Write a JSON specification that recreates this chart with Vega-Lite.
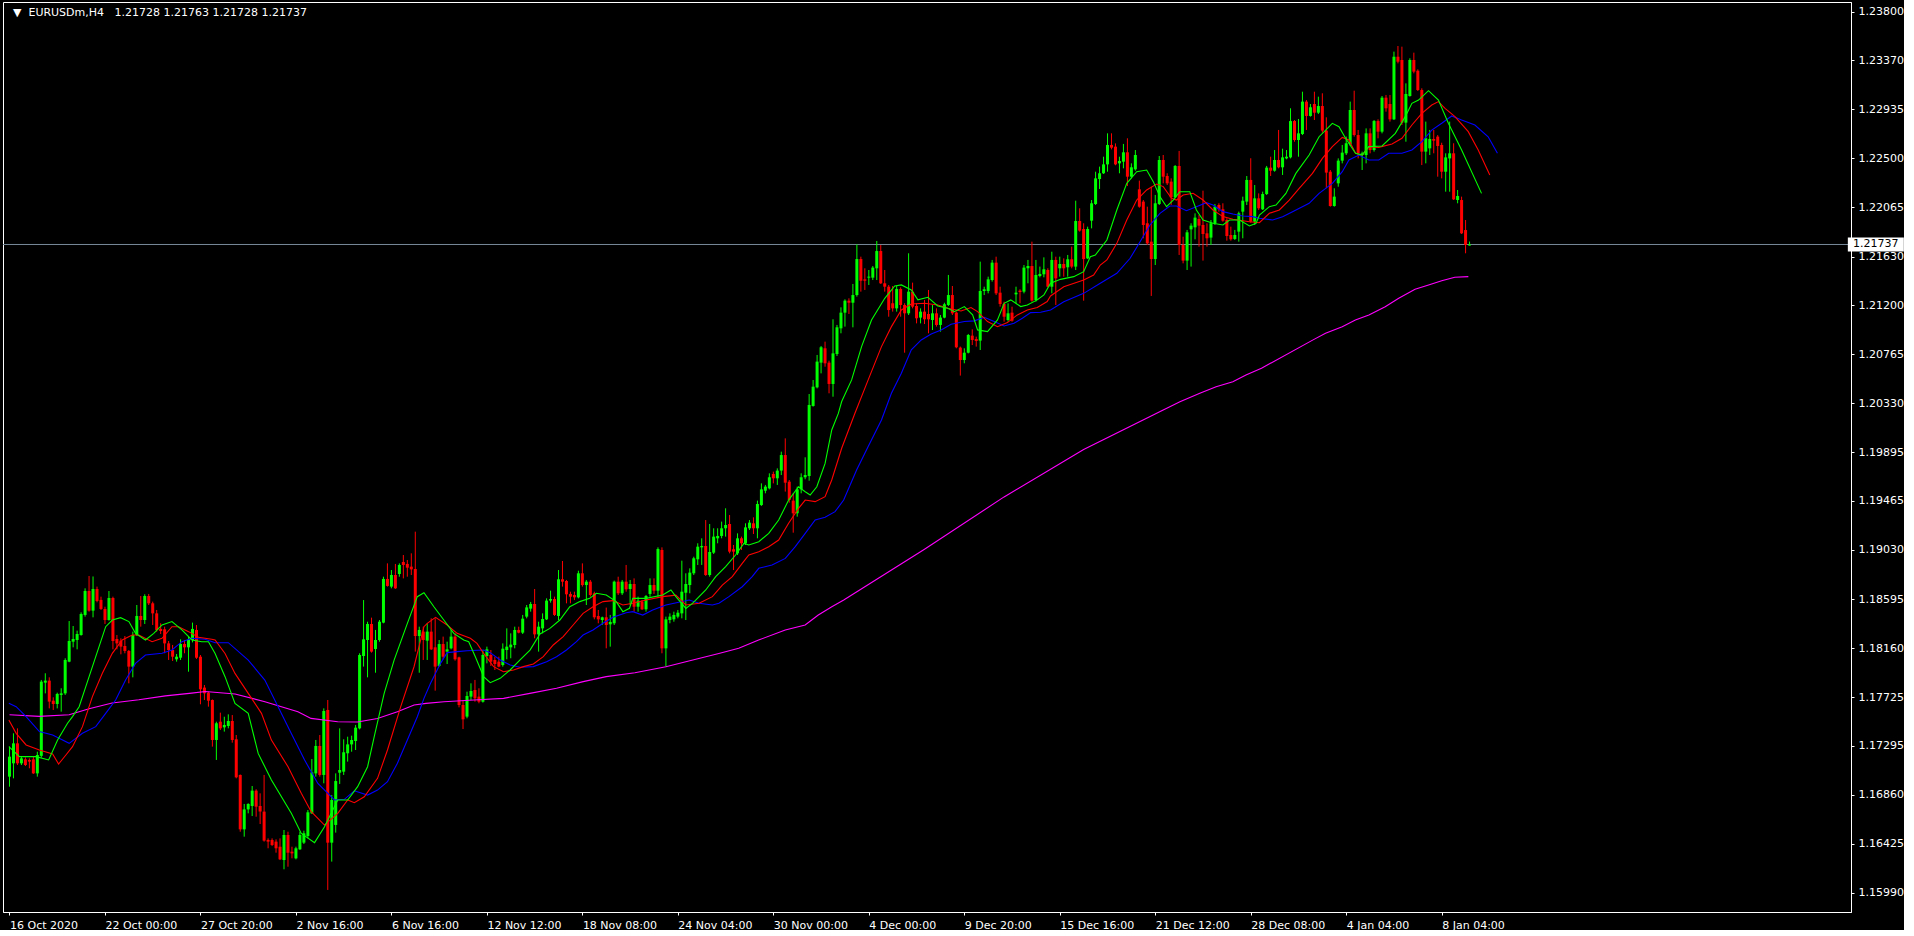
{
"$schema":"https://vega.github.io/schema/vega-lite/v6.json",
"width":1848,"height":910,
"padding":{"left":2,"top":2,"right":0,"bottom":0},
"autosize":{"type":"pad"},
"background":"#000000",
"config":{"view":{"stroke":"#ffffff","strokeWidth":1},"axis":{"domainColor":"#ffffff","tickColor":"#ffffff","labelColor":"#ffffff","labelFont":"DejaVu Sans","labelFontSize":11,"grid":false}},
"datasets":{
"last":[{"p":1.21737}],
"header":[{"t":"▼\u00a0\u00a0EURUSDm,H4\u00a0\u00a0\u00a01.21728 1.21763 1.21728 1.21737"}],
"candles":[
{"i":0,"o":1.17021,"h":1.17287,"l":1.16932,"c":1.17198},
{"i":1,"o":1.17139,"h":1.17405,"l":1.17006,"c":1.17316},
{"i":2,"o":1.17316,"h":1.17449,"l":1.17124,"c":1.17139},
{"i":3,"o":1.17139,"h":1.17198,"l":1.17124,"c":1.17183},
{"i":4,"o":1.17174,"h":1.17192,"l":1.17115,"c":1.17124},
{"i":5,"o":1.17169,"h":1.17183,"l":1.17095,"c":1.17154},
{"i":6,"o":1.17174,"h":1.17198,"l":1.17045,"c":1.17050},
{"i":7,"o":1.17050,"h":1.17242,"l":1.17021,"c":1.17213},
{"i":8,"o":1.17205,"h":1.17878,"l":1.17190,"c":1.17863},
{"i":9,"o":1.17854,"h":1.17937,"l":1.17759,"c":1.17872},
{"i":10,"o":1.17872,"h":1.17901,"l":1.17626,"c":1.17686},
{"i":11,"o":1.17694,"h":1.17724,"l":1.17612,"c":1.17665},
{"i":12,"o":1.17665,"h":1.17765,"l":1.17626,"c":1.17754},
{"i":13,"o":1.17745,"h":1.17804,"l":1.17597,"c":1.17759},
{"i":14,"o":1.17759,"h":1.18070,"l":1.17745,"c":1.18055},
{"i":15,"o":1.18040,"h":1.18400,"l":1.18035,"c":1.18223},
{"i":16,"o":1.18217,"h":1.18356,"l":1.18167,"c":1.18241},
{"i":17,"o":1.18232,"h":1.18315,"l":1.18149,"c":1.18285},
{"i":18,"o":1.18276,"h":1.18477,"l":1.18270,"c":1.18462},
{"i":19,"o":1.18454,"h":1.18690,"l":1.18439,"c":1.18666},
{"i":20,"o":1.18666,"h":1.18799,"l":1.18483,"c":1.18492},
{"i":21,"o":1.18492,"h":1.18795,"l":1.18433,"c":1.18684},
{"i":22,"o":1.18684,"h":1.18705,"l":1.18566,"c":1.18578},
{"i":23,"o":1.18587,"h":1.18616,"l":1.18498,"c":1.18507},
{"i":24,"o":1.18507,"h":1.18527,"l":1.18374,"c":1.18409},
{"i":25,"o":1.18409,"h":1.18666,"l":1.18403,"c":1.18604},
{"i":26,"o":1.18604,"h":1.18616,"l":1.18149,"c":1.18223},
{"i":27,"o":1.18241,"h":1.18276,"l":1.18149,"c":1.18202},
{"i":28,"o":1.18226,"h":1.18247,"l":1.18105,"c":1.18173},
{"i":29,"o":1.18179,"h":1.18267,"l":1.18114,"c":1.18135},
{"i":30,"o":1.18135,"h":1.18143,"l":1.17848,"c":1.17996},
{"i":31,"o":1.17996,"h":1.18306,"l":1.17901,"c":1.18276},
{"i":32,"o":1.18276,"h":1.18542,"l":1.18267,"c":1.18445},
{"i":33,"o":1.18445,"h":1.18622,"l":1.18350,"c":1.18409},
{"i":34,"o":1.18409,"h":1.18637,"l":1.18374,"c":1.18622},
{"i":35,"o":1.18622,"h":1.18640,"l":1.18542,"c":1.18557},
{"i":36,"o":1.18557,"h":1.18572,"l":1.18365,"c":1.18468},
{"i":37,"o":1.18468,"h":1.18498,"l":1.18306,"c":1.18321},
{"i":38,"o":1.18330,"h":1.18380,"l":1.18285,"c":1.18312},
{"i":39,"o":1.18327,"h":1.18350,"l":1.18114,"c":1.18202},
{"i":40,"o":1.18202,"h":1.18223,"l":1.18055,"c":1.18143},
{"i":41,"o":1.18143,"h":1.18188,"l":1.18046,"c":1.18084},
{"i":42,"o":1.18061,"h":1.18108,"l":1.18040,"c":1.18084},
{"i":43,"o":1.18075,"h":1.18238,"l":1.18055,"c":1.18197},
{"i":44,"o":1.18197,"h":1.18232,"l":1.18114,"c":1.18167},
{"i":45,"o":1.18167,"h":1.18262,"l":1.17951,"c":1.18238},
{"i":46,"o":1.18232,"h":1.18386,"l":1.18211,"c":1.18330},
{"i":47,"o":1.18321,"h":1.18365,"l":1.18064,"c":1.18075},
{"i":48,"o":1.18084,"h":1.18099,"l":1.17662,"c":1.17795},
{"i":49,"o":1.17810,"h":1.17833,"l":1.17700,"c":1.17759},
{"i":50,"o":1.17765,"h":1.17774,"l":1.17641,"c":1.17694},
{"i":51,"o":1.17700,"h":1.17705,"l":1.17287,"c":1.17346},
{"i":52,"o":1.17346,"h":1.17508,"l":1.17169,"c":1.17494},
{"i":53,"o":1.17508,"h":1.17588,"l":1.17434,"c":1.17449},
{"i":54,"o":1.17458,"h":1.17552,"l":1.17420,"c":1.17479},
{"i":55,"o":1.17470,"h":1.17573,"l":1.17449,"c":1.17514},
{"i":56,"o":1.17514,"h":1.17567,"l":1.17322,"c":1.17346},
{"i":57,"o":1.17352,"h":1.17390,"l":1.17006,"c":1.17015},
{"i":58,"o":1.17036,"h":1.17040,"l":1.16533,"c":1.16554},
{"i":59,"o":1.16554,"h":1.16779,"l":1.16489,"c":1.16731},
{"i":60,"o":1.16731,"h":1.16785,"l":1.16696,"c":1.16779},
{"i":61,"o":1.16761,"h":1.16938,"l":1.16672,"c":1.16897},
{"i":62,"o":1.16897,"h":1.16909,"l":1.16666,"c":1.16755},
{"i":63,"o":1.16761,"h":1.16873,"l":1.16601,"c":1.16711},
{"i":64,"o":1.16711,"h":1.17036,"l":1.16445,"c":1.16454},
{"i":65,"o":1.16460,"h":1.16474,"l":1.16386,"c":1.16445},
{"i":66,"o":1.16460,"h":1.16474,"l":1.16406,"c":1.16415},
{"i":67,"o":1.16445,"h":1.16465,"l":1.16347,"c":1.16386},
{"i":68,"o":1.16400,"h":1.16474,"l":1.16282,"c":1.16288},
{"i":69,"o":1.16282,"h":1.16548,"l":1.16200,"c":1.16504},
{"i":70,"o":1.16504,"h":1.16533,"l":1.16223,"c":1.16347},
{"i":71,"o":1.16356,"h":1.16400,"l":1.16297,"c":1.16341},
{"i":72,"o":1.16297,"h":1.16400,"l":1.16288,"c":1.16386},
{"i":73,"o":1.16377,"h":1.16533,"l":1.16371,"c":1.16504},
{"i":74,"o":1.16436,"h":1.16542,"l":1.16424,"c":1.16519},
{"i":75,"o":1.16495,"h":1.16725,"l":1.16474,"c":1.16705},
{"i":76,"o":1.16696,"h":1.17177,"l":1.16690,"c":1.17059},
{"i":77,"o":1.17050,"h":1.17346,"l":1.17021,"c":1.17293},
{"i":78,"o":1.17293,"h":1.17390,"l":1.17021,"c":1.17036},
{"i":79,"o":1.17036,"h":1.17626,"l":1.16962,"c":1.17603},
{"i":80,"o":1.17612,"h":1.17700,"l":1.16017,"c":1.16436},
{"i":81,"o":1.16436,"h":1.16858,"l":1.16268,"c":1.16814},
{"i":82,"o":1.16593,"h":1.17050,"l":1.16525,"c":1.16982},
{"i":83,"o":1.17056,"h":1.17449,"l":1.16956,"c":1.17080},
{"i":84,"o":1.17065,"h":1.17352,"l":1.17036,"c":1.17237},
{"i":85,"o":1.17228,"h":1.17375,"l":1.17154,"c":1.17307},
{"i":86,"o":1.17307,"h":1.17384,"l":1.17242,"c":1.17346},
{"i":87,"o":1.17337,"h":1.17479,"l":1.17257,"c":1.17455},
{"i":88,"o":1.17449,"h":1.18114,"l":1.17440,"c":1.18099},
{"i":89,"o":1.18090,"h":1.18586,"l":1.17996,"c":1.18238},
{"i":90,"o":1.18232,"h":1.18394,"l":1.17901,"c":1.18374},
{"i":91,"o":1.18374,"h":1.18430,"l":1.18120,"c":1.18129},
{"i":92,"o":1.18152,"h":1.18321,"l":1.17942,"c":1.18232},
{"i":93,"o":1.18232,"h":1.18409,"l":1.18217,"c":1.18394},
{"i":94,"o":1.18386,"h":1.18793,"l":1.18380,"c":1.18773},
{"i":95,"o":1.18773,"h":1.18911,"l":1.18705,"c":1.18711},
{"i":96,"o":1.18705,"h":1.18852,"l":1.18690,"c":1.18808},
{"i":97,"o":1.18808,"h":1.18906,"l":1.18685,"c":1.18690},
{"i":98,"o":1.18817,"h":1.18911,"l":1.18793,"c":1.18897},
{"i":99,"o":1.18923,"h":1.18985,"l":1.18778,"c":1.18897},
{"i":100,"o":1.18906,"h":1.18941,"l":1.18793,"c":1.18873},
{"i":101,"o":1.18882,"h":1.19000,"l":1.18808,"c":1.18858},
{"i":102,"o":1.18861,"h":1.19192,"l":1.18129,"c":1.18267},
{"i":103,"o":1.18267,"h":1.18350,"l":1.17942,"c":1.18321},
{"i":104,"o":1.18306,"h":1.18350,"l":1.18055,"c":1.18232},
{"i":105,"o":1.18226,"h":1.18380,"l":1.18055,"c":1.18306},
{"i":106,"o":1.18306,"h":1.18424,"l":1.18143,"c":1.18149},
{"i":107,"o":1.18167,"h":1.18424,"l":1.17783,"c":1.17996},
{"i":108,"o":1.18002,"h":1.18232,"l":1.17996,"c":1.18196},
{"i":109,"o":1.18196,"h":1.18262,"l":1.18061,"c":1.18084},
{"i":110,"o":1.18129,"h":1.18217,"l":1.18019,"c":1.18149},
{"i":111,"o":1.18158,"h":1.18321,"l":1.18149,"c":1.18262},
{"i":112,"o":1.18262,"h":1.18291,"l":1.18049,"c":1.18061},
{"i":113,"o":1.18078,"h":1.18084,"l":1.17635,"c":1.17656},
{"i":114,"o":1.17656,"h":1.17700,"l":1.17443,"c":1.17529},
{"i":115,"o":1.17553,"h":1.17774,"l":1.17538,"c":1.17736},
{"i":116,"o":1.17730,"h":1.17848,"l":1.17700,"c":1.17780},
{"i":117,"o":1.17789,"h":1.17878,"l":1.17685,"c":1.17715},
{"i":118,"o":1.17730,"h":1.17804,"l":1.17671,"c":1.17685},
{"i":119,"o":1.17685,"h":1.18143,"l":1.17677,"c":1.18099},
{"i":120,"o":1.18090,"h":1.18173,"l":1.18025,"c":1.18149},
{"i":121,"o":1.18099,"h":1.18143,"l":1.18002,"c":1.18040},
{"i":122,"o":1.18055,"h":1.18084,"l":1.17966,"c":1.18019},
{"i":123,"o":1.18040,"h":1.18084,"l":1.17990,"c":1.17996},
{"i":124,"o":1.18010,"h":1.18202,"l":1.17996,"c":1.18155},
{"i":125,"o":1.18143,"h":1.18335,"l":1.18061,"c":1.18173},
{"i":126,"o":1.18167,"h":1.18291,"l":1.18070,"c":1.18191},
{"i":127,"o":1.18188,"h":1.18350,"l":1.18158,"c":1.18321},
{"i":128,"o":1.18321,"h":1.18350,"l":1.18291,"c":1.18297},
{"i":129,"o":1.18297,"h":1.18454,"l":1.18285,"c":1.18421},
{"i":130,"o":1.18439,"h":1.18542,"l":1.18424,"c":1.18521},
{"i":131,"o":1.18510,"h":1.18569,"l":1.18483,"c":1.18551},
{"i":132,"o":1.18551,"h":1.18684,"l":1.18247,"c":1.18282},
{"i":133,"o":1.18282,"h":1.18394,"l":1.18129,"c":1.18350},
{"i":134,"o":1.18335,"h":1.18468,"l":1.18291,"c":1.18418},
{"i":135,"o":1.18415,"h":1.18601,"l":1.18409,"c":1.18581},
{"i":136,"o":1.18581,"h":1.18669,"l":1.18563,"c":1.18595},
{"i":137,"o":1.18595,"h":1.18616,"l":1.18445,"c":1.18454},
{"i":138,"o":1.18445,"h":1.18852,"l":1.18409,"c":1.18770},
{"i":139,"o":1.18770,"h":1.18932,"l":1.18705,"c":1.18749},
{"i":140,"o":1.18755,"h":1.18764,"l":1.18557,"c":1.18637},
{"i":141,"o":1.18640,"h":1.18660,"l":1.18557,"c":1.18616},
{"i":142,"o":1.18631,"h":1.18660,"l":1.18586,"c":1.18610},
{"i":143,"o":1.18610,"h":1.18846,"l":1.18601,"c":1.18823},
{"i":144,"o":1.18823,"h":1.18911,"l":1.18705,"c":1.18719},
{"i":145,"o":1.18719,"h":1.18764,"l":1.18542,"c":1.18749},
{"i":146,"o":1.18749,"h":1.18764,"l":1.18616,"c":1.18631},
{"i":147,"o":1.18646,"h":1.18660,"l":1.18415,"c":1.18433},
{"i":148,"o":1.18445,"h":1.18498,"l":1.18380,"c":1.18415},
{"i":149,"o":1.18409,"h":1.18439,"l":1.18365,"c":1.18433},
{"i":150,"o":1.18433,"h":1.18519,"l":1.18158,"c":1.18365},
{"i":151,"o":1.18371,"h":1.18454,"l":1.18173,"c":1.18392},
{"i":152,"o":1.18380,"h":1.18758,"l":1.18365,"c":1.18749},
{"i":153,"o":1.18749,"h":1.18793,"l":1.18631,"c":1.18646},
{"i":154,"o":1.18646,"h":1.18764,"l":1.18631,"c":1.18749},
{"i":155,"o":1.18749,"h":1.18897,"l":1.18660,"c":1.18681},
{"i":156,"o":1.18684,"h":1.18764,"l":1.18542,"c":1.18728},
{"i":157,"o":1.18728,"h":1.18778,"l":1.18483,"c":1.18527},
{"i":158,"o":1.18527,"h":1.18616,"l":1.18483,"c":1.18581},
{"i":159,"o":1.18572,"h":1.18587,"l":1.18498,"c":1.18504},
{"i":160,"o":1.18504,"h":1.18631,"l":1.18483,"c":1.18622},
{"i":161,"o":1.18640,"h":1.18778,"l":1.18616,"c":1.18719},
{"i":162,"o":1.18719,"h":1.18778,"l":1.18640,"c":1.18669},
{"i":163,"o":1.18669,"h":1.19053,"l":1.18616,"c":1.19038},
{"i":164,"o":1.19030,"h":1.19053,"l":1.18114,"c":1.18158},
{"i":165,"o":1.18158,"h":1.18439,"l":1.17996,"c":1.18415},
{"i":166,"o":1.18409,"h":1.18468,"l":1.18380,"c":1.18439},
{"i":167,"o":1.18415,"h":1.18483,"l":1.18394,"c":1.18454},
{"i":168,"o":1.18439,"h":1.18498,"l":1.18424,"c":1.18474},
{"i":169,"o":1.18468,"h":1.18935,"l":1.18424,"c":1.18660},
{"i":170,"o":1.18651,"h":1.18823,"l":1.18409,"c":1.18728},
{"i":171,"o":1.18719,"h":1.18867,"l":1.18646,"c":1.18829},
{"i":172,"o":1.18823,"h":1.18970,"l":1.18808,"c":1.18956},
{"i":173,"o":1.18947,"h":1.19089,"l":1.18897,"c":1.19059},
{"i":174,"o":1.19053,"h":1.19133,"l":1.18897,"c":1.19065},
{"i":175,"o":1.19065,"h":1.19295,"l":1.18800,"c":1.18808},
{"i":176,"o":1.18808,"h":1.19260,"l":1.18793,"c":1.19012},
{"i":177,"o":1.19006,"h":1.19222,"l":1.18994,"c":1.19148},
{"i":178,"o":1.19133,"h":1.19222,"l":1.19089,"c":1.19154},
{"i":179,"o":1.19154,"h":1.19281,"l":1.19133,"c":1.19222},
{"i":180,"o":1.19222,"h":1.19399,"l":1.19148,"c":1.19251},
{"i":181,"o":1.19260,"h":1.19340,"l":1.19000,"c":1.19015},
{"i":182,"o":1.19036,"h":1.19074,"l":1.18852,"c":1.19015},
{"i":183,"o":1.19000,"h":1.19177,"l":1.18985,"c":1.19133},
{"i":184,"o":1.19133,"h":1.19148,"l":1.19030,"c":1.19089},
{"i":185,"o":1.19089,"h":1.19266,"l":1.19074,"c":1.19230},
{"i":186,"o":1.19222,"h":1.19295,"l":1.19207,"c":1.19272},
{"i":187,"o":1.19266,"h":1.19319,"l":1.19171,"c":1.19222},
{"i":188,"o":1.19222,"h":1.19467,"l":1.19133,"c":1.19437},
{"i":189,"o":1.19428,"h":1.19620,"l":1.19420,"c":1.19567},
{"i":190,"o":1.19555,"h":1.19606,"l":1.19532,"c":1.19591},
{"i":191,"o":1.19576,"h":1.19709,"l":1.19567,"c":1.19674},
{"i":192,"o":1.19703,"h":1.19724,"l":1.19620,"c":1.19665},
{"i":193,"o":1.19665,"h":1.19753,"l":1.19606,"c":1.19733},
{"i":194,"o":1.19733,"h":1.19901,"l":1.19694,"c":1.19871},
{"i":195,"o":1.19871,"h":1.20019,"l":1.19547,"c":1.19626},
{"i":196,"o":1.19635,"h":1.19650,"l":1.19449,"c":1.19473},
{"i":197,"o":1.19467,"h":1.19532,"l":1.19183,"c":1.19355},
{"i":198,"o":1.19355,"h":1.19591,"l":1.19325,"c":1.19567},
{"i":199,"o":1.19567,"h":1.19709,"l":1.19532,"c":1.19674},
{"i":200,"o":1.19674,"h":1.19851,"l":1.19656,"c":1.19694},
{"i":201,"o":1.19685,"h":1.20412,"l":1.19644,"c":1.20315},
{"i":202,"o":1.20306,"h":1.20536,"l":1.20300,"c":1.20477},
{"i":203,"o":1.20471,"h":1.20758,"l":1.20462,"c":1.20699},
{"i":204,"o":1.20690,"h":1.20837,"l":1.20595,"c":1.20826},
{"i":205,"o":1.20817,"h":1.20876,"l":1.20654,"c":1.20684},
{"i":206,"o":1.20690,"h":1.20707,"l":1.20418,"c":1.20501},
{"i":207,"o":1.20501,"h":1.21074,"l":1.20388,"c":1.20772},
{"i":208,"o":1.20766,"h":1.21024,"l":1.20749,"c":1.21003},
{"i":209,"o":1.20994,"h":1.21180,"l":1.20950,"c":1.21133},
{"i":210,"o":1.21133,"h":1.21251,"l":1.21009,"c":1.21239},
{"i":211,"o":1.21239,"h":1.21260,"l":1.21121,"c":1.21221},
{"i":212,"o":1.21221,"h":1.21387,"l":1.21003,"c":1.21289},
{"i":213,"o":1.21289,"h":1.21738,"l":1.21275,"c":1.21608},
{"i":214,"o":1.21608,"h":1.21629,"l":1.21319,"c":1.21416},
{"i":215,"o":1.21428,"h":1.21526,"l":1.21334,"c":1.21416},
{"i":216,"o":1.21443,"h":1.21511,"l":1.21378,"c":1.21452},
{"i":217,"o":1.21443,"h":1.21546,"l":1.21422,"c":1.21532},
{"i":218,"o":1.21526,"h":1.21768,"l":1.21422,"c":1.21679},
{"i":219,"o":1.21679,"h":1.21732,"l":1.21387,"c":1.21393},
{"i":220,"o":1.21393,"h":1.21511,"l":1.21319,"c":1.21363},
{"i":221,"o":1.21363,"h":1.21378,"l":1.21097,"c":1.21156},
{"i":222,"o":1.21216,"h":1.21369,"l":1.21142,"c":1.21171},
{"i":223,"o":1.21171,"h":1.21369,"l":1.21142,"c":1.21343},
{"i":224,"o":1.21343,"h":1.21357,"l":1.21097,"c":1.21201},
{"i":225,"o":1.21201,"h":1.21216,"l":1.20778,"c":1.21127},
{"i":226,"o":1.21127,"h":1.21659,"l":1.21112,"c":1.21319},
{"i":227,"o":1.21319,"h":1.21399,"l":1.21171,"c":1.21186},
{"i":228,"o":1.21192,"h":1.21216,"l":1.21038,"c":1.21083},
{"i":229,"o":1.21089,"h":1.21171,"l":1.21038,"c":1.21142},
{"i":230,"o":1.21142,"h":1.21245,"l":1.21032,"c":1.21074},
{"i":231,"o":1.21121,"h":1.21334,"l":1.20950,"c":1.21074},
{"i":232,"o":1.21068,"h":1.21201,"l":1.20979,"c":1.21127},
{"i":233,"o":1.21127,"h":1.21171,"l":1.21009,"c":1.21024},
{"i":234,"o":1.21024,"h":1.21112,"l":1.20964,"c":1.21089},
{"i":235,"o":1.21089,"h":1.21221,"l":1.21083,"c":1.21207},
{"i":236,"o":1.21201,"h":1.21467,"l":1.21192,"c":1.21289},
{"i":237,"o":1.21289,"h":1.21369,"l":1.21112,"c":1.21127},
{"i":238,"o":1.21133,"h":1.21142,"l":1.20817,"c":1.20826},
{"i":239,"o":1.20823,"h":1.20832,"l":1.20575,"c":1.20713},
{"i":240,"o":1.20713,"h":1.20817,"l":1.20684,"c":1.20778},
{"i":241,"o":1.20778,"h":1.20944,"l":1.20772,"c":1.20935},
{"i":242,"o":1.20929,"h":1.20985,"l":1.20846,"c":1.20891},
{"i":243,"o":1.20899,"h":1.20920,"l":1.20832,"c":1.20882},
{"i":244,"o":1.20885,"h":1.21585,"l":1.20802,"c":1.21325},
{"i":245,"o":1.21325,"h":1.21363,"l":1.21289,"c":1.21340},
{"i":246,"o":1.21325,"h":1.21452,"l":1.21304,"c":1.21428},
{"i":247,"o":1.21422,"h":1.21600,"l":1.21408,"c":1.21576},
{"i":248,"o":1.21576,"h":1.21629,"l":1.21289,"c":1.21304},
{"i":249,"o":1.21310,"h":1.21363,"l":1.21186,"c":1.21210},
{"i":250,"o":1.21210,"h":1.21230,"l":1.21053,"c":1.21097},
{"i":251,"o":1.21068,"h":1.21216,"l":1.21053,"c":1.21127},
{"i":252,"o":1.21133,"h":1.21186,"l":1.21053,"c":1.21062},
{"i":253,"o":1.21295,"h":1.21363,"l":1.21216,"c":1.21310},
{"i":254,"o":1.21328,"h":1.21340,"l":1.21216,"c":1.21316},
{"i":255,"o":1.21319,"h":1.21555,"l":1.21304,"c":1.21532},
{"i":256,"o":1.21526,"h":1.21600,"l":1.21393,"c":1.21546},
{"i":257,"o":1.21546,"h":1.21762,"l":1.21230,"c":1.21239},
{"i":258,"o":1.21245,"h":1.21600,"l":1.21230,"c":1.21467},
{"i":259,"o":1.21458,"h":1.21541,"l":1.21446,"c":1.21476},
{"i":260,"o":1.21473,"h":1.21623,"l":1.21446,"c":1.21517},
{"i":261,"o":1.21511,"h":1.21526,"l":1.21357,"c":1.21363},
{"i":262,"o":1.21363,"h":1.21673,"l":1.21304,"c":1.21600},
{"i":263,"o":1.21600,"h":1.21629,"l":1.21201,"c":1.21437},
{"i":264,"o":1.21526,"h":1.21629,"l":1.21452,"c":1.21564},
{"i":265,"o":1.21564,"h":1.21614,"l":1.21452,"c":1.21526},
{"i":266,"o":1.21535,"h":1.21644,"l":1.21452,"c":1.21606},
{"i":267,"o":1.21606,"h":1.21718,"l":1.21526,"c":1.21541},
{"i":268,"o":1.21541,"h":1.22125,"l":1.21511,"c":1.21945},
{"i":269,"o":1.21945,"h":1.22058,"l":1.21851,"c":1.21860},
{"i":270,"o":1.21874,"h":1.21925,"l":1.21239,"c":1.21608},
{"i":271,"o":1.21614,"h":1.21895,"l":1.21608,"c":1.21874},
{"i":272,"o":1.21948,"h":1.22131,"l":1.21880,"c":1.22102},
{"i":273,"o":1.22096,"h":1.22382,"l":1.22087,"c":1.22323},
{"i":274,"o":1.22317,"h":1.22427,"l":1.22229,"c":1.22368},
{"i":275,"o":1.22368,"h":1.22515,"l":1.22362,"c":1.22447},
{"i":276,"o":1.22447,"h":1.22722,"l":1.22382,"c":1.22619},
{"i":277,"o":1.22619,"h":1.22722,"l":1.22580,"c":1.22595},
{"i":278,"o":1.22604,"h":1.22633,"l":1.22439,"c":1.22447},
{"i":279,"o":1.22456,"h":1.22515,"l":1.22368,"c":1.22477},
{"i":280,"o":1.22471,"h":1.22628,"l":1.22412,"c":1.22554},
{"i":281,"o":1.22554,"h":1.22678,"l":1.22255,"c":1.22338},
{"i":282,"o":1.22338,"h":1.22456,"l":1.22323,"c":1.22421},
{"i":283,"o":1.22403,"h":1.22574,"l":1.22391,"c":1.22530},
{"i":284,"o":1.22226,"h":1.22303,"l":1.22063,"c":1.22072},
{"i":285,"o":1.22117,"h":1.22131,"l":1.21792,"c":1.21910},
{"i":286,"o":1.21925,"h":1.22072,"l":1.21733,"c":1.21747},
{"i":287,"o":1.21762,"h":1.22249,"l":1.21281,"c":1.21608},
{"i":288,"o":1.21608,"h":1.22176,"l":1.21555,"c":1.22102},
{"i":289,"o":1.22096,"h":1.22521,"l":1.22087,"c":1.22486},
{"i":290,"o":1.22486,"h":1.22530,"l":1.22279,"c":1.22338},
{"i":291,"o":1.22344,"h":1.22368,"l":1.22264,"c":1.22279},
{"i":292,"o":1.22294,"h":1.22323,"l":1.22087,"c":1.22155},
{"i":293,"o":1.22155,"h":1.22441,"l":1.22146,"c":1.22433},
{"i":294,"o":1.22433,"h":1.22566,"l":1.21644,"c":1.21733},
{"i":295,"o":1.21733,"h":1.21806,"l":1.21570,"c":1.21594},
{"i":296,"o":1.21594,"h":1.21866,"l":1.21511,"c":1.21845},
{"i":297,"o":1.21871,"h":1.21925,"l":1.21541,"c":1.21904},
{"i":298,"o":1.21889,"h":1.22013,"l":1.21783,"c":1.21975},
{"i":299,"o":1.21963,"h":1.21998,"l":1.21718,"c":1.21904},
{"i":300,"o":1.21910,"h":1.22214,"l":1.21594,"c":1.21830},
{"i":301,"o":1.21836,"h":1.21925,"l":1.21718,"c":1.21792},
{"i":302,"o":1.21798,"h":1.21954,"l":1.21733,"c":1.21925},
{"i":303,"o":1.21925,"h":1.22096,"l":1.21910,"c":1.22072},
{"i":304,"o":1.22087,"h":1.22102,"l":1.22028,"c":1.22049},
{"i":305,"o":1.22049,"h":1.22102,"l":1.21939,"c":1.21948},
{"i":306,"o":1.21954,"h":1.21969,"l":1.21771,"c":1.21812},
{"i":307,"o":1.21821,"h":1.21895,"l":1.21771,"c":1.21783},
{"i":308,"o":1.21786,"h":1.21866,"l":1.21777,"c":1.21821},
{"i":309,"o":1.21851,"h":1.22028,"l":1.21762,"c":1.22013},
{"i":310,"o":1.22028,"h":1.22161,"l":1.21792,"c":1.22125},
{"i":311,"o":1.22117,"h":1.22344,"l":1.22087,"c":1.22309},
{"i":312,"o":1.22309,"h":1.22501,"l":1.21930,"c":1.21939},
{"i":313,"o":1.21939,"h":1.22264,"l":1.21910,"c":1.22146},
{"i":314,"o":1.22146,"h":1.22190,"l":1.22043,"c":1.22058},
{"i":315,"o":1.22049,"h":1.22205,"l":1.22043,"c":1.22184},
{"i":316,"o":1.22184,"h":1.22433,"l":1.22176,"c":1.22418},
{"i":317,"o":1.22418,"h":1.22515,"l":1.22344,"c":1.22391},
{"i":318,"o":1.22391,"h":1.22574,"l":1.22382,"c":1.22486},
{"i":319,"o":1.22486,"h":1.22752,"l":1.22412,"c":1.22421},
{"i":320,"o":1.22421,"h":1.22586,"l":1.22353,"c":1.22509},
{"i":321,"o":1.22500,"h":1.22574,"l":1.22492,"c":1.22515},
{"i":322,"o":1.22509,"h":1.22944,"l":1.22500,"c":1.22831},
{"i":323,"o":1.22831,"h":1.22840,"l":1.22648,"c":1.22663},
{"i":324,"o":1.22663,"h":1.22849,"l":1.22515,"c":1.22722},
{"i":325,"o":1.22716,"h":1.23091,"l":1.22707,"c":1.23003},
{"i":326,"o":1.23003,"h":1.23017,"l":1.22752,"c":1.22876},
{"i":327,"o":1.22876,"h":1.22982,"l":1.22870,"c":1.22953},
{"i":328,"o":1.22982,"h":1.23091,"l":1.22840,"c":1.22905},
{"i":329,"o":1.22905,"h":1.23047,"l":1.22893,"c":1.22964},
{"i":330,"o":1.22964,"h":1.23077,"l":1.22728,"c":1.22746},
{"i":331,"o":1.22746,"h":1.22864,"l":1.22235,"c":1.22374},
{"i":332,"o":1.22382,"h":1.22397,"l":1.22072,"c":1.22078},
{"i":333,"o":1.22078,"h":1.22235,"l":1.22072,"c":1.22161},
{"i":334,"o":1.22279,"h":1.22500,"l":1.22249,"c":1.22480},
{"i":335,"o":1.22480,"h":1.22619,"l":1.22456,"c":1.22551},
{"i":336,"o":1.22545,"h":1.22693,"l":1.22530,"c":1.22634},
{"i":337,"o":1.22628,"h":1.23003,"l":1.22610,"c":1.22929},
{"i":338,"o":1.22929,"h":1.23100,"l":1.22693,"c":1.22707},
{"i":339,"o":1.22707,"h":1.22752,"l":1.22500,"c":1.22545},
{"i":340,"o":1.22530,"h":1.22560,"l":1.22397,"c":1.22545},
{"i":341,"o":1.22530,"h":1.22766,"l":1.22456,"c":1.22722},
{"i":342,"o":1.22722,"h":1.22766,"l":1.22545,"c":1.22574},
{"i":343,"o":1.22574,"h":1.22840,"l":1.22560,"c":1.22831},
{"i":344,"o":1.22831,"h":1.22846,"l":1.22678,"c":1.22737},
{"i":345,"o":1.22737,"h":1.23053,"l":1.22722,"c":1.23038},
{"i":346,"o":1.23038,"h":1.23062,"l":1.22914,"c":1.22944},
{"i":347,"o":1.22982,"h":1.23062,"l":1.22826,"c":1.22846},
{"i":348,"o":1.22846,"h":1.23446,"l":1.22840,"c":1.23401},
{"i":349,"o":1.23401,"h":1.23496,"l":1.23342,"c":1.23357},
{"i":350,"o":1.23372,"h":1.23490,"l":1.22796,"c":1.22817},
{"i":351,"o":1.22817,"h":1.23165,"l":1.22648,"c":1.23071},
{"i":352,"o":1.23053,"h":1.23387,"l":1.23047,"c":1.23372},
{"i":353,"o":1.23372,"h":1.23437,"l":1.23254,"c":1.23269},
{"i":354,"o":1.23277,"h":1.23289,"l":1.23097,"c":1.23106},
{"i":355,"o":1.23106,"h":1.23121,"l":1.22441,"c":1.22560},
{"i":356,"o":1.22560,"h":1.22826,"l":1.22456,"c":1.22678},
{"i":357,"o":1.22589,"h":1.22752,"l":1.22530,"c":1.22672},
{"i":358,"o":1.22672,"h":1.22752,"l":1.22545,"c":1.22657},
{"i":359,"o":1.22693,"h":1.22707,"l":1.22338,"c":1.22610},
{"i":360,"o":1.22619,"h":1.22639,"l":1.22323,"c":1.22382},
{"i":361,"o":1.22382,"h":1.22545,"l":1.22205,"c":1.22509},
{"i":362,"o":1.22500,"h":1.22826,"l":1.22205,"c":1.22545},
{"i":363,"o":1.22545,"h":1.22634,"l":1.22131,"c":1.22137},
{"i":364,"o":1.22131,"h":1.22220,"l":1.22102,"c":1.22167},
{"i":365,"o":1.22131,"h":1.22161,"l":1.21830,"c":1.21836},
{"i":366,"o":1.21865,"h":1.21954,"l":1.21659,"c":1.21733},
{"i":367,"o":1.21728,"h":1.21763,"l":1.21728,"c":1.21737}
],
"lines":[
{"s":"ma","i":0,"p":1.17569},{"s":"ma","i":7.5,"p":1.17555},{"s":"ma","i":15,"p":1.17569},{"s":"ma","i":20,"p":1.17622},{"s":"ma","i":25.8,"p":1.17673},{"s":"ma","i":32.5,"p":1.17702},{"s":"ma","i":39.2,"p":1.17737},{"s":"ma","i":45.8,"p":1.17761},{"s":"ma","i":49.2,"p":1.17776},{"s":"ma","i":56.7,"p":1.17753},{"s":"ma","i":64.2,"p":1.17685},{"s":"ma","i":72.5,"p":1.17597},{"s":"ma","i":75.8,"p":1.17537},{"s":"ma","i":82.5,"p":1.17508},{"s":"ma","i":87.5,"p":1.17505},{"s":"ma","i":92.5,"p":1.17537},{"s":"ma","i":97.5,"p":1.17597},{"s":"ma","i":101.7,"p":1.17656},{"s":"ma","i":104.7,"p":1.17670},{"s":"ma","i":109.2,"p":1.17685},{"s":"ma","i":116.7,"p":1.17700},{"s":"ma","i":124.2,"p":1.17715},{"s":"ma","i":130.8,"p":1.17759},{"s":"ma","i":137.5,"p":1.17804},{"s":"ma","i":144.2,"p":1.17863},{"s":"ma","i":150,"p":1.17907},{"s":"ma","i":157.2,"p":1.17942},{"s":"ma","i":165,"p":1.17995},{"s":"ma","i":170,"p":1.18040},{"s":"ma","i":178.3,"p":1.18113},{"s":"ma","i":183.3,"p":1.18158},{"s":"ma","i":188.3,"p":1.18232},{"s":"ma","i":195,"p":1.18320},{"s":"ma","i":200,"p":1.18365},{"s":"ma","i":203.3,"p":1.18453},{"s":"ma","i":206.7,"p":1.18527},{"s":"ma","i":209.7,"p":1.18586},{"s":"ma","i":230,"p":1.19036},{"s":"ma","i":250,"p":1.19500},{"s":"ma","i":270,"p":1.19920},{"s":"ma","i":290,"p":1.20270},{"s":"ma","i":294.2,"p":1.20344},{"s":"ma","i":299.2,"p":1.20418},{"s":"ma","i":303.3,"p":1.20477},{"s":"ma","i":307.5,"p":1.20521},{"s":"ma","i":310.8,"p":1.20581},{"s":"ma","i":314.7,"p":1.20640},{"s":"ma","i":327.9,"p":1.20896},{"s":"ma","i":330.8,"p":1.20950},{"s":"ma","i":335,"p":1.21009},{"s":"ma","i":338.3,"p":1.21068},{"s":"ma","i":341.7,"p":1.21112},{"s":"ma","i":345.8,"p":1.21186},{"s":"ma","i":349.2,"p":1.21260},{"s":"ma","i":353.3,"p":1.21340},{"s":"ma","i":356.7,"p":1.21378},{"s":"ma","i":360,"p":1.21416},{"s":"ma","i":363.3,"p":1.21446},{"s":"ma","i":366.7,"p":1.21452},
{"s":"jaw","i":-0.16,"p":1.17671},{"s":"jaw","i":1.68,"p":1.17641},{"s":"jaw","i":4.18,"p":1.17553},{"s":"jaw","i":7.51,"p":1.17420},{"s":"jaw","i":10.84,"p":1.17390},{"s":"jaw","i":15.0,"p":1.17316},{"s":"jaw","i":18.34,"p":1.17405},{"s":"jaw","i":21.68,"p":1.17464},{"s":"jaw","i":24.18,"p":1.17582},{"s":"jaw","i":26.68,"p":1.17700},{"s":"jaw","i":29.18,"p":1.17878},{"s":"jaw","i":31.68,"p":1.18025},{"s":"jaw","i":34.18,"p":1.18099},{"s":"jaw","i":38.34,"p":1.18114},{"s":"jaw","i":40.84,"p":1.18143},{"s":"jaw","i":43.34,"p":1.18217},{"s":"jaw","i":45.84,"p":1.18247},{"s":"jaw","i":49.18,"p":1.18238},{"s":"jaw","i":51.68,"p":1.18208},{"s":"jaw","i":55.01,"p":1.18208},{"s":"jaw","i":60.01,"p":1.18054},{"s":"jaw","i":64.18,"p":1.17877},{"s":"jaw","i":67.51,"p":1.17641},{"s":"jaw","i":70.84,"p":1.17404},{"s":"jaw","i":74.18,"p":1.17168},{"s":"jaw","i":77.51,"p":1.16961},{"s":"jaw","i":81.68,"p":1.16814},{"s":"jaw","i":84.18,"p":1.16820},{"s":"jaw","i":86.68,"p":1.16896},{"s":"jaw","i":90.01,"p":1.16858},{"s":"jaw","i":92.51,"p":1.16902},{"s":"jaw","i":95.01,"p":1.16976},{"s":"jaw","i":97.51,"p":1.17139},{"s":"jaw","i":100.01,"p":1.17345},{"s":"jaw","i":102.51,"p":1.17552},{"s":"jaw","i":104.18,"p":1.17715},{"s":"jaw","i":105.84,"p":1.17848},{"s":"jaw","i":108.34,"p":1.18025},{"s":"jaw","i":110.01,"p":1.18120},{"s":"jaw","i":112.51,"p":1.18129},{"s":"jaw","i":115.01,"p":1.18137},{"s":"jaw","i":119.18,"p":1.18143},{"s":"jaw","i":120.84,"p":1.18120},{"s":"jaw","i":123.34,"p":1.18055},{"s":"jaw","i":125.84,"p":1.18010},{"s":"jaw","i":128.34,"p":1.17990},{"s":"jaw","i":131.68,"p":1.17996},{"s":"jaw","i":135.01,"p":1.18040},{"s":"jaw","i":137.51,"p":1.18084},{"s":"jaw","i":140.01,"p":1.18143},{"s":"jaw","i":142.51,"p":1.18217},{"s":"jaw","i":144.18,"p":1.18276},{"s":"jaw","i":146.68,"p":1.18321},{"s":"jaw","i":149.18,"p":1.18380},{"s":"jaw","i":151.68,"p":1.18433},{"s":"jaw","i":155.01,"p":1.18474},{"s":"jaw","i":156.68,"p":1.18483},{"s":"jaw","i":159.18,"p":1.18453},{"s":"jaw","i":161.68,"p":1.18497},{"s":"jaw","i":165.01,"p":1.18542},{"s":"jaw","i":170.84,"p":1.18586},{"s":"jaw","i":173.34,"p":1.18557},{"s":"jaw","i":176.68,"p":1.18542},{"s":"jaw","i":178.34,"p":1.18557},{"s":"jaw","i":180.84,"p":1.18616},{"s":"jaw","i":184.18,"p":1.18704},{"s":"jaw","i":186.68,"p":1.18793},{"s":"jaw","i":188.34,"p":1.18867},{"s":"jaw","i":191.68,"p":1.18896},{"s":"jaw","i":195.01,"p":1.18955},{"s":"jaw","i":197.51,"p":1.19059},{"s":"jaw","i":200.01,"p":1.19177},{"s":"jaw","i":202.51,"p":1.19295},{"s":"jaw","i":205.01,"p":1.19319},{"s":"jaw","i":207.51,"p":1.19369},{"s":"jaw","i":209.68,"p":1.19472},{"s":"jaw","i":212.93,"p":1.19739},{"s":"jaw","i":215.84,"p":1.19946},{"s":"jaw","i":219.18,"p":1.20182},{"s":"jaw","i":221.68,"p":1.20418},{"s":"jaw","i":224.18,"p":1.20596},{"s":"jaw","i":226.68,"p":1.20803},{"s":"jaw","i":229.18,"p":1.20891},{"s":"jaw","i":231.68,"p":1.20944},{"s":"jaw","i":234.18,"p":1.20980},{"s":"jaw","i":236.68,"p":1.21030},{"s":"jaw","i":240.01,"p":1.21054},{"s":"jaw","i":242.51,"p":1.21060},{"s":"jaw","i":245.01,"p":1.21092},{"s":"jaw","i":247.51,"p":1.21054},{"s":"jaw","i":250.01,"p":1.21015},{"s":"jaw","i":252.51,"p":1.21039},{"s":"jaw","i":254.59,"p":1.21083},{"s":"jaw","i":256.68,"p":1.21133},{"s":"jaw","i":259.18,"p":1.21136},{"s":"jaw","i":261.68,"p":1.21157},{"s":"jaw","i":265.01,"p":1.21230},{"s":"jaw","i":270.01,"p":1.21304},{"s":"jaw","i":274.18,"p":1.21393},{"s":"jaw","i":278.34,"p":1.21482},{"s":"jaw","i":281.68,"p":1.21615},{"s":"jaw","i":284.18,"p":1.21762},{"s":"jaw","i":286.68,"p":1.21910},{"s":"jaw","i":289.18,"p":1.22013},{"s":"jaw","i":291.68,"p":1.22078},{"s":"jaw","i":293.34,"p":1.22078},{"s":"jaw","i":295.84,"p":1.22037},{"s":"jaw","i":298.34,"p":1.22072},{"s":"jaw","i":300.84,"p":1.22108},{"s":"jaw","i":302.51,"p":1.22087},{"s":"jaw","i":305.01,"p":1.22028},{"s":"jaw","i":307.51,"p":1.22007},{"s":"jaw","i":310.01,"p":1.21990},{"s":"jaw","i":312.51,"p":1.21984},{"s":"jaw","i":314.18,"p":1.21969},{"s":"jaw","i":317.51,"p":1.21954},{"s":"jaw","i":320.01,"p":1.21983},{"s":"jaw","i":322.51,"p":1.22028},{"s":"jaw","i":326.68,"p":1.22102},{"s":"jaw","i":329.18,"p":1.22190},{"s":"jaw","i":332.51,"p":1.22279},{"s":"jaw","i":335.01,"p":1.22382},{"s":"jaw","i":336.68,"p":1.22486},{"s":"jaw","i":339.18,"p":1.22530},{"s":"jaw","i":341.68,"p":1.22486},{"s":"jaw","i":344.18,"p":1.22486},{"s":"jaw","i":346.68,"p":1.22545},{"s":"jaw","i":350.01,"p":1.22545},{"s":"jaw","i":352.51,"p":1.22574},{"s":"jaw","i":355.01,"p":1.22648},{"s":"jaw","i":357.51,"p":1.22751},{"s":"jaw","i":360.01,"p":1.22811},{"s":"jaw","i":362.51,"p":1.22876},{"s":"jaw","i":365.01,"p":1.22840},{"s":"jaw","i":368.34,"p":1.22796},{"s":"jaw","i":371.68,"p":1.22692},{"s":"jaw","i":374.01,"p":1.22545},
{"s":"teeth","i":-0.16,"p":1.17523},{"s":"teeth","i":1.68,"p":1.17405},{"s":"teeth","i":4.18,"p":1.17302},{"s":"teeth","i":7.51,"p":1.17257},{"s":"teeth","i":10.84,"p":1.17222},{"s":"teeth","i":12.34,"p":1.17133},{"s":"teeth","i":14.18,"p":1.17213},{"s":"teeth","i":15.84,"p":1.17287},{"s":"teeth","i":18.34,"p":1.17464},{"s":"teeth","i":20.84,"p":1.17730},{"s":"teeth","i":23.34,"p":1.17937},{"s":"teeth","i":25.84,"p":1.18114},{"s":"teeth","i":28.34,"p":1.18232},{"s":"teeth","i":30.84,"p":1.18276},{"s":"teeth","i":32.51,"p":1.18276},{"s":"teeth","i":35.84,"p":1.18217},{"s":"teeth","i":38.34,"p":1.18247},{"s":"teeth","i":40.84,"p":1.18350},{"s":"teeth","i":42.51,"p":1.18350},{"s":"teeth","i":45.01,"p":1.18306},{"s":"teeth","i":47.51,"p":1.18256},{"s":"teeth","i":50.84,"p":1.18238},{"s":"teeth","i":51.68,"p":1.18232},{"s":"teeth","i":54.18,"p":1.18113},{"s":"teeth","i":56.68,"p":1.17936},{"s":"teeth","i":60.01,"p":1.17759},{"s":"teeth","i":63.34,"p":1.17582},{"s":"teeth","i":65.84,"p":1.17345},{"s":"teeth","i":70.01,"p":1.17109},{"s":"teeth","i":73.34,"p":1.16873},{"s":"teeth","i":75.84,"p":1.16710},{"s":"teeth","i":79.18,"p":1.16592},{"s":"teeth","i":82.51,"p":1.16696},{"s":"teeth","i":85.01,"p":1.16814},{"s":"teeth","i":86.68,"p":1.16790},{"s":"teeth","i":89.18,"p":1.16843},{"s":"teeth","i":92.51,"p":1.17006},{"s":"teeth","i":95.01,"p":1.17257},{"s":"teeth","i":98.34,"p":1.17641},{"s":"teeth","i":101.68,"p":1.17995},{"s":"teeth","i":104.18,"p":1.18350},{"s":"teeth","i":105.01,"p":1.18380},{"s":"teeth","i":107.09,"p":1.18433},{"s":"teeth","i":110.01,"p":1.18365},{"s":"teeth","i":112.51,"p":1.18291},{"s":"teeth","i":115.84,"p":1.18247},{"s":"teeth","i":117.51,"p":1.18202},{"s":"teeth","i":119.18,"p":1.18114},{"s":"teeth","i":121.68,"p":1.17996},{"s":"teeth","i":124.18,"p":1.17951},{"s":"teeth","i":126.68,"p":1.17966},{"s":"teeth","i":129.18,"p":1.17996},{"s":"teeth","i":131.68,"p":1.18019},{"s":"teeth","i":134.18,"p":1.18084},{"s":"teeth","i":136.68,"p":1.18188},{"s":"teeth","i":139.18,"p":1.18262},{"s":"teeth","i":141.68,"p":1.18365},{"s":"teeth","i":144.18,"p":1.18468},{"s":"teeth","i":146.68,"p":1.18527},{"s":"teeth","i":149.18,"p":1.18572},{"s":"teeth","i":151.68,"p":1.18581},{"s":"teeth","i":154.18,"p":1.18542},{"s":"teeth","i":156.68,"p":1.18557},{"s":"teeth","i":160.01,"p":1.18586},{"s":"teeth","i":164.18,"p":1.18616},{"s":"teeth","i":167.51,"p":1.18630},{"s":"teeth","i":170.01,"p":1.18542},{"s":"teeth","i":173.34,"p":1.18557},{"s":"teeth","i":176.68,"p":1.18616},{"s":"teeth","i":179.18,"p":1.18719},{"s":"teeth","i":181.68,"p":1.18793},{"s":"teeth","i":184.18,"p":1.18911},{"s":"teeth","i":185.84,"p":1.18985},{"s":"teeth","i":188.34,"p":1.19014},{"s":"teeth","i":190.84,"p":1.19059},{"s":"teeth","i":193.34,"p":1.19118},{"s":"teeth","i":195.84,"p":1.19266},{"s":"teeth","i":198.34,"p":1.19398},{"s":"teeth","i":200.01,"p":1.19472},{"s":"teeth","i":202.51,"p":1.19458},{"s":"teeth","i":205.01,"p":1.19502},{"s":"teeth","i":206.68,"p":1.19650},{"s":"teeth","i":209.18,"p":1.19931},{"s":"teeth","i":212.51,"p":1.20241},{"s":"teeth","i":215.84,"p":1.20537},{"s":"teeth","i":219.18,"p":1.20832},{"s":"teeth","i":221.68,"p":1.21009},{"s":"teeth","i":224.18,"p":1.21157},{"s":"teeth","i":226.68,"p":1.21210},{"s":"teeth","i":230.01,"p":1.21216},{"s":"teeth","i":233.34,"p":1.21201},{"s":"teeth","i":235.84,"p":1.21172},{"s":"teeth","i":239.18,"p":1.21148},{"s":"teeth","i":241.68,"p":1.21178},{"s":"teeth","i":243.34,"p":1.21142},{"s":"teeth","i":245.84,"p":1.21054},{"s":"teeth","i":248.34,"p":1.21009},{"s":"teeth","i":250.84,"p":1.21045},{"s":"teeth","i":253.34,"p":1.21113},{"s":"teeth","i":255.84,"p":1.21157},{"s":"teeth","i":258.34,"p":1.21178},{"s":"teeth","i":260.84,"p":1.21231},{"s":"teeth","i":261.68,"p":1.21281},{"s":"teeth","i":265.01,"p":1.21363},{"s":"teeth","i":270.01,"p":1.21423},{"s":"teeth","i":272.51,"p":1.21467},{"s":"teeth","i":274.18,"p":1.21555},{"s":"teeth","i":275.84,"p":1.21600},{"s":"teeth","i":278.34,"p":1.21747},{"s":"teeth","i":280.84,"p":1.21954},{"s":"teeth","i":283.34,"p":1.22131},{"s":"teeth","i":285.84,"p":1.22220},{"s":"teeth","i":288.34,"p":1.22273},{"s":"teeth","i":290.01,"p":1.22250},{"s":"teeth","i":292.09,"p":1.22146},{"s":"teeth","i":293.34,"p":1.22131},{"s":"teeth","i":295.01,"p":1.22176},{"s":"teeth","i":297.51,"p":1.22191},{"s":"teeth","i":300.01,"p":1.22131},{"s":"teeth","i":302.51,"p":1.22043},{"s":"teeth","i":305.01,"p":1.21984},{"s":"teeth","i":307.51,"p":1.21960},{"s":"teeth","i":311.68,"p":1.21939},{"s":"teeth","i":314.18,"p":1.21930},{"s":"teeth","i":316.68,"p":1.22013},{"s":"teeth","i":319.18,"p":1.22043},{"s":"teeth","i":321.68,"p":1.22131},{"s":"teeth","i":324.18,"p":1.22235},{"s":"teeth","i":327.51,"p":1.22367},{"s":"teeth","i":330.01,"p":1.22500},{"s":"teeth","i":332.51,"p":1.22604},{"s":"teeth","i":335.01,"p":1.22686},{"s":"teeth","i":336.68,"p":1.22663},{"s":"teeth","i":338.34,"p":1.22545},{"s":"teeth","i":340.01,"p":1.22530},{"s":"teeth","i":341.68,"p":1.22604},{"s":"teeth","i":344.18,"p":1.22598},{"s":"teeth","i":347.51,"p":1.22627},{"s":"teeth","i":350.01,"p":1.22678},{"s":"teeth","i":352.51,"p":1.22796},{"s":"teeth","i":355.01,"p":1.22899},{"s":"teeth","i":357.51,"p":1.22973},{"s":"teeth","i":359.18,"p":1.23003},{"s":"teeth","i":360.84,"p":1.22943},{"s":"teeth","i":363.34,"p":1.22870},{"s":"teeth","i":366.68,"p":1.22737},{"s":"teeth","i":369.18,"p":1.22574},{"s":"teeth","i":372.09,"p":1.22353},
{"s":"lips","i":-0.16,"p":1.17287},{"s":"lips","i":2.51,"p":1.17198},{"s":"lips","i":6.68,"p":1.17198},{"s":"lips","i":9.84,"p":1.17169},{"s":"lips","i":12.09,"p":1.17346},{"s":"lips","i":14.59,"p":1.17494},{"s":"lips","i":15.84,"p":1.17553},{"s":"lips","i":17.51,"p":1.17641},{"s":"lips","i":19.18,"p":1.17819},{"s":"lips","i":21.68,"p":1.18084},{"s":"lips","i":24.18,"p":1.18350},{"s":"lips","i":25.84,"p":1.18409},{"s":"lips","i":27.93,"p":1.18430},{"s":"lips","i":30.01,"p":1.18395},{"s":"lips","i":31.68,"p":1.18291},{"s":"lips","i":34.18,"p":1.18232},{"s":"lips","i":36.26,"p":1.18291},{"s":"lips","i":38.34,"p":1.18365},{"s":"lips","i":40.84,"p":1.18395},{"s":"lips","i":43.34,"p":1.18321},{"s":"lips","i":45.84,"p":1.18232},{"s":"lips","i":48.34,"p":1.18217},{"s":"lips","i":50.01,"p":1.18217},{"s":"lips","i":51.68,"p":1.18113},{"s":"lips","i":54.18,"p":1.17907},{"s":"lips","i":56.68,"p":1.17670},{"s":"lips","i":60.01,"p":1.17582},{"s":"lips","i":62.51,"p":1.17227},{"s":"lips","i":65.84,"p":1.16991},{"s":"lips","i":70.84,"p":1.16696},{"s":"lips","i":73.34,"p":1.16518},{"s":"lips","i":76.68,"p":1.16436},{"s":"lips","i":79.18,"p":1.16577},{"s":"lips","i":82.51,"p":1.16814},{"s":"lips","i":85.01,"p":1.16814},{"s":"lips","i":87.51,"p":1.16932},{"s":"lips","i":90.01,"p":1.17109},{"s":"lips","i":91.68,"p":1.17375},{"s":"lips","i":94.18,"p":1.17759},{"s":"lips","i":96.68,"p":1.18054},{"s":"lips","i":100.01,"p":1.18379},{"s":"lips","i":102.51,"p":1.18616},{"s":"lips","i":104.18,"p":1.18651},{"s":"lips","i":106.68,"p":1.18527},{"s":"lips","i":109.18,"p":1.18409},{"s":"lips","i":111.68,"p":1.18291},{"s":"lips","i":114.18,"p":1.18232},{"s":"lips","i":115.43,"p":1.18217},{"s":"lips","i":117.09,"p":1.18084},{"s":"lips","i":119.18,"p":1.17907},{"s":"lips","i":120.84,"p":1.17854},{"s":"lips","i":123.34,"p":1.17892},{"s":"lips","i":125.84,"p":1.17966},{"s":"lips","i":128.34,"p":1.18055},{"s":"lips","i":130.84,"p":1.18143},{"s":"lips","i":133.34,"p":1.18285},{"s":"lips","i":135.84,"p":1.18335},{"s":"lips","i":138.34,"p":1.18409},{"s":"lips","i":140.84,"p":1.18527},{"s":"lips","i":143.34,"p":1.18572},{"s":"lips","i":145.84,"p":1.18601},{"s":"lips","i":147.51,"p":1.18646},{"s":"lips","i":150.01,"p":1.18631},{"s":"lips","i":152.51,"p":1.18572},{"s":"lips","i":154.18,"p":1.18483},{"s":"lips","i":155.84,"p":1.18513},{"s":"lips","i":156.68,"p":1.18601},{"s":"lips","i":160.01,"p":1.18601},{"s":"lips","i":164.18,"p":1.18630},{"s":"lips","i":166.26,"p":1.18675},{"s":"lips","i":167.51,"p":1.18616},{"s":"lips","i":170.01,"p":1.18512},{"s":"lips","i":171.68,"p":1.18557},{"s":"lips","i":175.01,"p":1.18675},{"s":"lips","i":177.51,"p":1.18793},{"s":"lips","i":180.01,"p":1.18882},{"s":"lips","i":182.51,"p":1.18985},{"s":"lips","i":184.59,"p":1.19088},{"s":"lips","i":185.84,"p":1.19074},{"s":"lips","i":188.34,"p":1.19103},{"s":"lips","i":190.84,"p":1.19177},{"s":"lips","i":193.34,"p":1.19295},{"s":"lips","i":195.84,"p":1.19472},{"s":"lips","i":198.34,"p":1.19590},{"s":"lips","i":200.01,"p":1.19546},{"s":"lips","i":201.26,"p":1.19517},{"s":"lips","i":202.93,"p":1.19590},{"s":"lips","i":205.01,"p":1.19797},{"s":"lips","i":206.68,"p":1.20093},{"s":"lips","i":208.34,"p":1.20240},{"s":"lips","i":209.18,"p":1.20345},{"s":"lips","i":211.68,"p":1.20537},{"s":"lips","i":214.18,"p":1.20832},{"s":"lips","i":216.68,"p":1.21068},{"s":"lips","i":220.01,"p":1.21260},{"s":"lips","i":222.51,"p":1.21370},{"s":"lips","i":224.18,"p":1.21379},{"s":"lips","i":226.68,"p":1.21334},{"s":"lips","i":228.34,"p":1.21246},{"s":"lips","i":230.84,"p":1.21269},{"s":"lips","i":233.34,"p":1.21192},{"s":"lips","i":235.84,"p":1.21172},{"s":"lips","i":237.51,"p":1.21142},{"s":"lips","i":240.01,"p":1.21187},{"s":"lips","i":242.09,"p":1.21113},{"s":"lips","i":243.34,"p":1.20980},{"s":"lips","i":245.84,"p":1.20965},{"s":"lips","i":248.34,"p":1.21068},{"s":"lips","i":250.01,"p":1.21216},{"s":"lips","i":251.68,"p":1.21246},{"s":"lips","i":254.18,"p":1.21187},{"s":"lips","i":255.84,"p":1.21201},{"s":"lips","i":258.34,"p":1.21246},{"s":"lips","i":260.01,"p":1.21290},{"s":"lips","i":261.68,"p":1.21393},{"s":"lips","i":264.18,"p":1.21428},{"s":"lips","i":267.51,"p":1.21452},{"s":"lips","i":270.01,"p":1.21496},{"s":"lips","i":271.68,"p":1.21629},{"s":"lips","i":272.93,"p":1.21644},{"s":"lips","i":275.84,"p":1.21777},{"s":"lips","i":278.34,"p":1.22043},{"s":"lips","i":280.84,"p":1.22279},{"s":"lips","i":283.34,"p":1.22382},{"s":"lips","i":285.84,"p":1.22397},{"s":"lips","i":287.51,"p":1.22294},{"s":"lips","i":289.18,"p":1.22161},{"s":"lips","i":290.84,"p":1.22072},{"s":"lips","i":292.51,"p":1.22131},{"s":"lips","i":294.18,"p":1.22205},{"s":"lips","i":296.68,"p":1.22205},{"s":"lips","i":298.34,"p":1.22043},{"s":"lips","i":300.01,"p":1.21954},{"s":"lips","i":302.51,"p":1.21925},{"s":"lips","i":305.01,"p":1.21910},{"s":"lips","i":306.68,"p":1.21954},{"s":"lips","i":309.18,"p":1.21954},{"s":"lips","i":311.68,"p":1.21901},{"s":"lips","i":313.34,"p":1.21925},{"s":"lips","i":314.18,"p":1.21998},{"s":"lips","i":316.68,"p":1.22072},{"s":"lips","i":318.34,"p":1.22087},{"s":"lips","i":320.84,"p":1.22190},{"s":"lips","i":323.34,"p":1.22367},{"s":"lips","i":326.68,"p":1.22530},{"s":"lips","i":329.18,"p":1.22692},{"s":"lips","i":332.51,"p":1.22811},{"s":"lips","i":334.18,"p":1.22781},{"s":"lips","i":335.84,"p":1.22678},{"s":"lips","i":338.34,"p":1.22545},{"s":"lips","i":340.01,"p":1.22530},{"s":"lips","i":341.68,"p":1.22604},{"s":"lips","i":345.01,"p":1.22610},{"s":"lips","i":348.34,"p":1.22722},{"s":"lips","i":350.84,"p":1.22870},{"s":"lips","i":352.51,"p":1.22988},{"s":"lips","i":354.18,"p":1.23017},{"s":"lips","i":356.68,"p":1.23100},{"s":"lips","i":359.18,"p":1.23017},{"s":"lips","i":361.68,"p":1.22811},{"s":"lips","i":365.01,"p":1.22574},{"s":"lips","i":370.01,"p":1.22190}
]
},
"layer":[
{"data":{"name":"last"},"mark":{"type":"rule","color":"#778899","strokeWidth":1},
 "encoding":{"y":{"field":"p","type":"quantitative","scale":{"domain":[1.1582145,1.2388596],"nice":false,"zero":false}}}},
{"data":{"name":"candles"},"mark":{"type":"rule","strokeWidth":1},
 "encoding":{
  "x":{"field":"i","type":"quantitative","scale":{"domain":[-0.375,461.625],"nice":false,"zero":false},
   "axis":{"orient":"bottom","values":[0,24,48,72,96,120,144,168,192,216,240,264,288,312,336,360],
    "labelExpr":"['16 Oct 2020','22 Oct 00:00','27 Oct 20:00','2 Nov 16:00','6 Nov 16:00','12 Nov 12:00','18 Nov 08:00','24 Nov 04:00','30 Nov 00:00','4 Dec 00:00','9 Dec 20:00','15 Dec 16:00','21 Dec 12:00','28 Dec 08:00','4 Jan 04:00','8 Jan 04:00'][round(datum.value/24)]",
    "tickSize":3,"labelPadding":4,"labelAlign":"left","labelBaseline":"top","labelFlush":false,"labelOverlap":false,"title":null,"grid":false}},
  "y":{"field":"l","type":"quantitative","scale":{"domain":[1.1582145,1.2388596],"nice":false,"zero":false},
   "axis":{"orient":"right","values":[1.238,1.2337,1.22935,1.225,1.22065,1.2163,1.212,1.20765,1.2033,1.19895,1.19465,1.1903,1.18595,1.1816,1.17725,1.17295,1.1686,1.16425,1.1599],
    "format":".5f","tickSize":3,"labelPadding":4,"labelFlush":false,"labelOverlap":false,"title":null,"grid":false}},
  "y2":{"field":"h"},
  "color":{"condition":{"test":"datum.c >= datum.o","value":"#00ff00"},"value":"#ff0000"}}},
{"data":{"name":"candles"},"mark":{"type":"bar","size":3},
 "encoding":{
  "x":{"field":"i","type":"quantitative","scale":{"domain":[-0.375,461.625],"nice":false,"zero":false}},
  "y":{"field":"o","type":"quantitative","scale":{"domain":[1.1582145,1.2388596],"nice":false,"zero":false}},
  "y2":{"field":"c"},
  "color":{"condition":{"test":"datum.c >= datum.o","value":"#00ff00"},"value":"#ff0000"}}},
{"data":{"name":"lines"},"mark":{"type":"line","strokeWidth":1.1},
 "encoding":{
  "x":{"field":"i","type":"quantitative","scale":{"domain":[-0.375,461.625],"nice":false,"zero":false}},
  "y":{"field":"p","type":"quantitative","scale":{"domain":[1.1582145,1.2388596],"nice":false,"zero":false}},
  "color":{"field":"s","type":"nominal","scale":{"domain":["ma","jaw","teeth","lips"],"range":["#ff00ff","#0000ff","#ff0000","#00ff00"]},"legend":null}}},
{"data":{"name":"last"},"mark":{"type":"tick","orient":"horizontal","size":56,"thickness":14,"color":"#ffffff","opacity":1},
 "encoding":{
  "x":{"datum":469.125,"type":"quantitative","scale":{"domain":[-0.375,461.625],"nice":false,"zero":false}},
  "y":{"field":"p","type":"quantitative","scale":{"domain":[1.1582145,1.2388596],"nice":false,"zero":false}}}},
{"data":{"name":"last"},"mark":{"type":"text","color":"#000000","font":"DejaVu Sans","fontSize":11,"align":"center","baseline":"middle"},
 "encoding":{
  "x":{"datum":469.125,"type":"quantitative","scale":{"domain":[-0.375,461.625],"nice":false,"zero":false}},
  "y":{"field":"p","type":"quantitative","scale":{"domain":[1.1582145,1.2388596],"nice":false,"zero":false}},
  "text":{"field":"p","type":"quantitative","format":".5f"}}},
{"data":{"name":"header"},"mark":{"type":"text","color":"#ffffff","font":"DejaVu Sans","fontSize":11,"align":"left","baseline":"alphabetic"},
 "encoding":{
  "x":{"datum":0.875,"type":"quantitative","scale":{"domain":[-0.375,461.625],"nice":false,"zero":false}},
  "y":{"datum":1.2375746,"type":"quantitative","scale":{"domain":[1.1582145,1.2388596],"nice":false,"zero":false}},
  "text":{"field":"t"}}}
]
}
